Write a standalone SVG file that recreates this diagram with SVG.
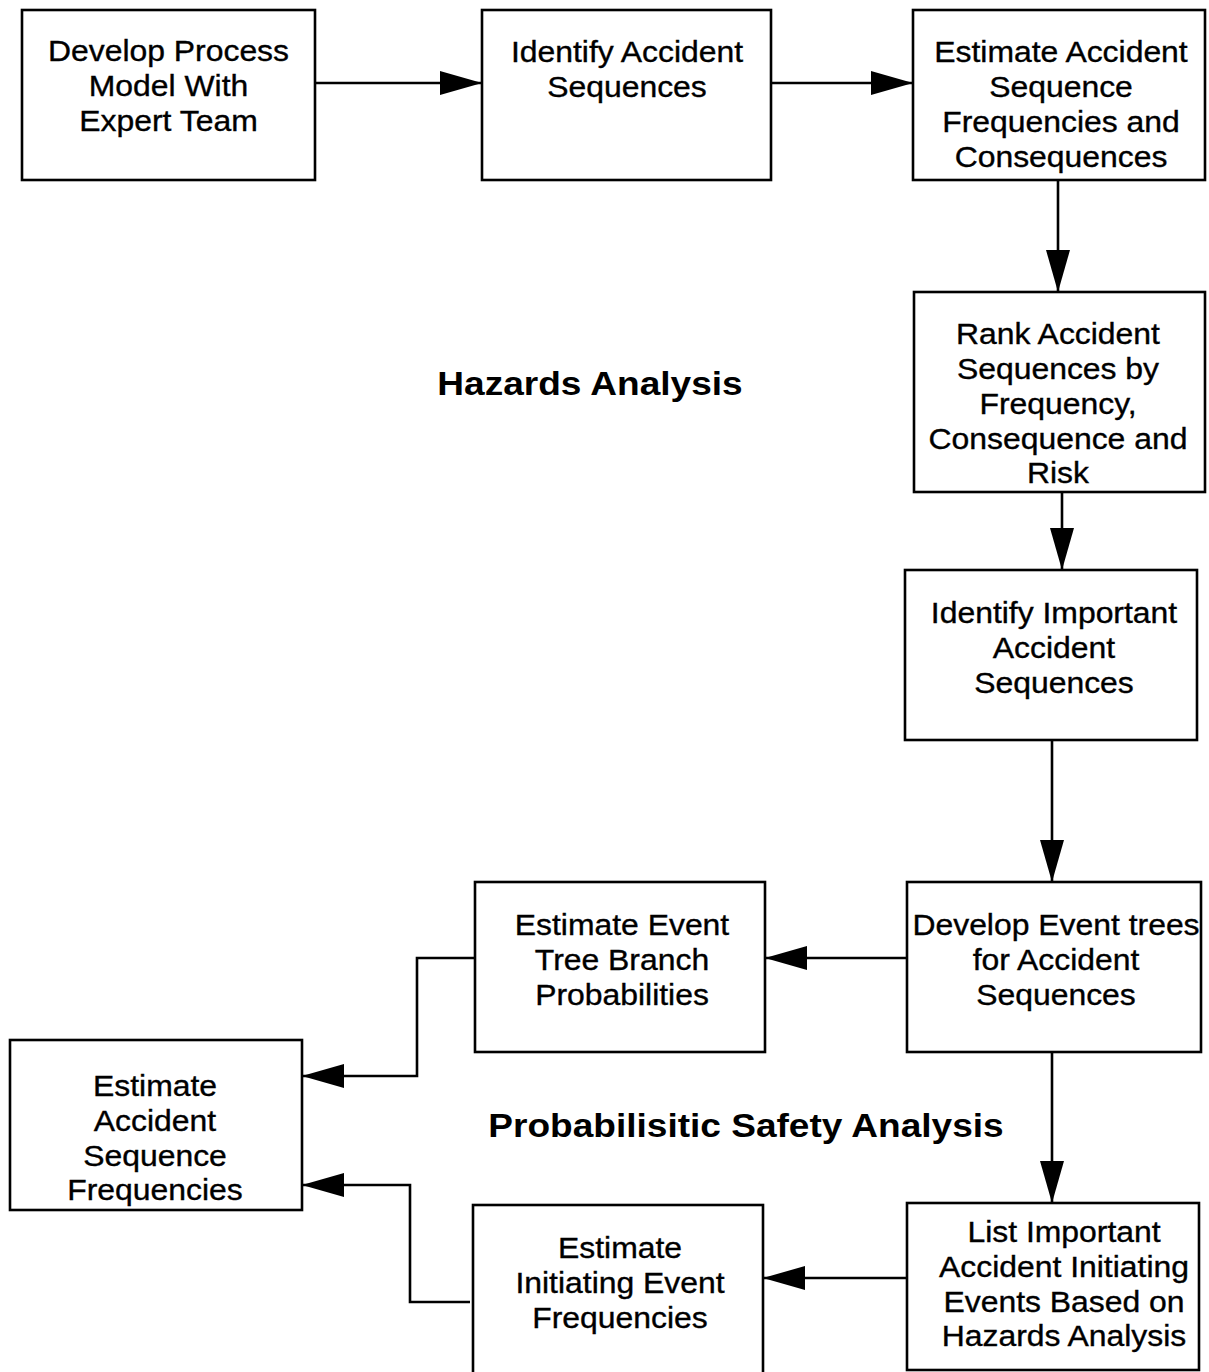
<svg xmlns="http://www.w3.org/2000/svg" width="1209" height="1372" viewBox="0 0 1209 1372">
<style>
.box{fill:#fff;stroke:#000;stroke-width:2.6}
.t{font-family:"Liberation Sans",Arial,Helvetica,sans-serif;font-size:29px;fill:#000;stroke:#000;stroke-width:0.35;text-anchor:middle}
.h{font-family:"Liberation Sans",Arial,Helvetica,sans-serif;font-size:34px;font-weight:bold;fill:#000;text-anchor:middle}
.c{fill:none;stroke:#000;stroke-width:2.6}
</style>
<defs>
<marker id="ah" markerUnits="userSpaceOnUse" markerWidth="44" markerHeight="26" refX="42" refY="12" orient="auto" viewBox="0 0 44 26">
<path d="M0,0 L42,12 L0,24 z" fill="#000"/>
</marker>
</defs>
<rect width="1209" height="1372" fill="#fff"/>
<g id="connectors">
<path class="c" d="M315 83 H482" marker-end="url(#ah)"/>
<path class="c" d="M771 83 H913" marker-end="url(#ah)"/>
<path class="c" d="M1058 180 V292" marker-end="url(#ah)"/>
<path class="c" d="M1062 492 V570" marker-end="url(#ah)"/>
<path class="c" d="M1052 740 V882" marker-end="url(#ah)"/>
<path class="c" d="M907 958 H765" marker-end="url(#ah)"/>
<path class="c" d="M475 958 H417 V1076 H302" marker-end="url(#ah)"/>
<path class="c" d="M470 1302 H410 V1185 H302" marker-end="url(#ah)"/>
<path class="c" d="M1052 1052 V1203" marker-end="url(#ah)"/>
<path class="c" d="M907 1278 H763" marker-end="url(#ah)"/>
</g>
<g id="n1">
<rect class="box" x="22" y="10" width="293" height="170"/>
<text class="t" transform="translate(168.5 0) scale(1.1 1)"><tspan x="0" y="61">Develop Process</tspan><tspan x="0" y="96">Model With</tspan><tspan x="0" y="131">Expert Team</tspan></text>
</g>
<g id="n2">
<rect class="box" x="482" y="10" width="289" height="170"/>
<text class="t" transform="translate(627 0) scale(1.1 1)"><tspan x="0" y="62">Identify Accident</tspan><tspan x="0" y="97">Sequences</tspan></text>
</g>
<g id="n3">
<rect class="box" x="913" y="10" width="292" height="170"/>
<text class="t" transform="translate(1061 0) scale(1.1 1)"><tspan x="0" y="62">Estimate Accident</tspan><tspan x="0" y="97">Sequence</tspan><tspan x="0" y="132">Frequencies and</tspan><tspan x="0" y="167">Consequences</tspan></text>
</g>
<g id="n4">
<rect class="box" x="914" y="292" width="291" height="200"/>
<text class="t" transform="translate(1058 0) scale(1.1 1)"><tspan x="0" y="344">Rank Accident</tspan><tspan x="0" y="379">Sequences by</tspan><tspan x="0" y="414">Frequency,</tspan><tspan x="0" y="449">Consequence and</tspan><tspan x="0" y="483">Risk</tspan></text>
</g>
<g id="n5">
<rect class="box" x="905" y="570" width="292" height="170"/>
<text class="t" transform="translate(1054 0) scale(1.1 1)"><tspan x="0" y="623">Identify Important</tspan><tspan x="0" y="658">Accident</tspan><tspan x="0" y="693">Sequences</tspan></text>
</g>
<g id="n6">
<rect class="box" x="907" y="882" width="294" height="170"/>
<text class="t" transform="translate(1056 0) scale(1.1 1)"><tspan x="0" y="935">Develop Event trees</tspan><tspan x="0" y="970">for Accident</tspan><tspan x="0" y="1005">Sequences</tspan></text>
</g>
<g id="n7">
<rect class="box" x="475" y="882" width="290" height="170"/>
<text class="t" transform="translate(622 0) scale(1.1 1)"><tspan x="0" y="935">Estimate Event</tspan><tspan x="0" y="970">Tree Branch</tspan><tspan x="0" y="1005">Probabilities</tspan></text>
</g>
<g id="n8">
<rect class="box" x="10" y="1040" width="292" height="170"/>
<text class="t" transform="translate(155 0) scale(1.1 1)"><tspan x="0" y="1096">Estimate</tspan><tspan x="0" y="1131">Accident</tspan><tspan x="0" y="1166">Sequence</tspan><tspan x="0" y="1200">Frequencies</tspan></text>
</g>
<g id="n9">
<rect class="box" x="473" y="1205" width="290" height="190"/>
<text class="t" transform="translate(620 0) scale(1.1 1)"><tspan x="0" y="1258">Estimate</tspan><tspan x="0" y="1293">Initiating Event</tspan><tspan x="0" y="1328">Frequencies</tspan></text>
</g>
<g id="n10">
<rect class="box" x="907" y="1203" width="292" height="167"/>
<text class="t" transform="translate(1064 0) scale(1.1 1)"><tspan x="0" y="1242">List Important</tspan><tspan x="0" y="1277">Accident Initiating</tspan><tspan x="0" y="1312">Events Based on</tspan><tspan x="0" y="1346">Hazards Analysis</tspan></text>
</g>
<g id="labels">
<text class="h" transform="translate(590 0) scale(1.09 1)" x="0" y="395">Hazards Analysis</text>
<text class="h" transform="translate(746 0) scale(1.09 1)" x="0" y="1137">Probabilisitic Safety Analysis</text>
</g>
</svg>
